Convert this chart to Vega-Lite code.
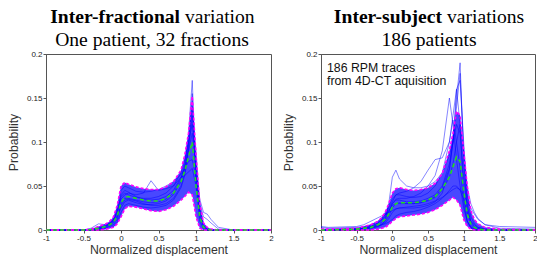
{
"$schema": "https://vega.github.io/schema/vega-lite/v6.json",
"padding": {"left": 6, "top": 6, "right": 0, "bottom": 0},
"spacing": 6,
"background": "white",
"config": {
 "view": {"stroke": "#555", "strokeWidth": 1},
 "axis": {"grid": false, "labelFont": "Liberation Sans", "labelFontSize": 8, "labelColor": "#222", "tickColor": "#555", "domainColor": "#555", "tickSize": 3, "labelPadding": 1, "labelOverlap": false, "labelFlush": false, "labelBound": false, "titleFont": "Liberation Sans", "titleFontSize": 12.3, "titleFontWeight": "normal", "titleColor": "#333"},
 "axisX": {"titlePadding": 1},
 "axisY": {"titlePadding": 6}
},
"datasets": {
 "L": [
  {"x": -1, "m": 0, "hi": 0, "lo": 0, "a": 0, "b": 0, "c": 0, "d": 0, "e": 0, "f": 0, "g": 0, "h": 0},
  {"x": -0.9, "m": 0, "hi": 0, "lo": 0, "a": 0, "b": 0, "c": 0, "d": 0, "e": 0, "f": 0, "g": 0, "h": 0},
  {"x": -0.5, "m": 0, "hi": 0, "lo": 0, "a": 0, "b": 0, "c": 0, "d": 0, "e": 0, "f": 0, "g": 0, "h": 0},
  {"x": -0.4, "m": 0.0005, "hi": 0.001, "lo": 0, "a": 0, "b": 0, "c": 0, "d": 0, "e": 0.002, "f": 0, "g": 0, "h": 0.001},
  {"x": -0.3, "m": 0.002, "hi": 0.004, "lo": 0, "a": 0.001, "b": 0.002, "c": 0, "d": 0.001, "e": 0.007, "f": 0.001, "g": 0.002, "h": 0.003},
  {"x": -0.2, "m": 0.004, "hi": 0.007, "lo": 0.001, "a": 0.003, "b": 0.005, "c": 0.001, "d": 0.004, "e": 0.006, "f": 0.002, "g": 0.004, "h": 0.005},
  {"x": -0.15, "m": 0.006, "hi": 0.01, "lo": 0.002, "a": 0.005, "b": 0.008, "c": 0.002, "d": 0.006, "e": 0.008, "f": 0.004, "g": 0.007, "h": 0.007},
  {"x": -0.1, "m": 0.009, "hi": 0.015, "lo": 0.003, "a": 0.008, "b": 0.012, "c": 0.004, "d": 0.01, "e": 0.012, "f": 0.006, "g": 0.011, "h": 0.01},
  {"x": -0.05, "m": 0.016, "hi": 0.028, "lo": 0.007, "a": 0.015, "b": 0.025, "c": 0.009, "d": 0.02, "e": 0.022, "f": 0.012, "g": 0.02, "h": 0.016},
  {"x": 0, "m": 0.031, "hi": 0.05, "lo": 0.015, "a": 0.03, "b": 0.045, "c": 0.02, "d": 0.035, "e": 0.04, "f": 0.028, "g": 0.038, "h": 0.025},
  {"x": 0.05, "m": 0.037, "hi": 0.054, "lo": 0.024, "a": 0.036, "b": 0.05, "c": 0.028, "d": 0.04, "e": 0.045, "f": 0.034, "g": 0.042, "h": 0.032},
  {"x": 0.1, "m": 0.038, "hi": 0.052, "lo": 0.027, "a": 0.036, "b": 0.048, "c": 0.03, "d": 0.042, "e": 0.043, "f": 0.035, "g": 0.04, "h": 0.034},
  {"x": 0.2, "m": 0.036, "hi": 0.049, "lo": 0.026, "a": 0.034, "b": 0.044, "c": 0.028, "d": 0.04, "e": 0.038, "f": 0.033, "g": 0.037, "h": 0.031},
  {"x": 0.3, "m": 0.034, "hi": 0.047, "lo": 0.024, "a": 0.032, "b": 0.043, "c": 0.026, "d": 0.042, "e": 0.035, "f": 0.03, "g": 0.036, "h": 0.029},
  {"x": 0.4, "m": 0.033, "hi": 0.046, "lo": 0.022, "a": 0.031, "b": 0.044, "c": 0.025, "d": 0.056, "e": 0.034, "f": 0.028, "g": 0.036, "h": 0.029},
  {"x": 0.5, "m": 0.033, "hi": 0.046, "lo": 0.021, "a": 0.032, "b": 0.046, "c": 0.026, "d": 0.045, "e": 0.035, "f": 0.028, "g": 0.038, "h": 0.03},
  {"x": 0.6, "m": 0.036, "hi": 0.049, "lo": 0.023, "a": 0.035, "b": 0.05, "c": 0.028, "d": 0.047, "e": 0.038, "f": 0.03, "g": 0.042, "h": 0.033},
  {"x": 0.7, "m": 0.042, "hi": 0.055, "lo": 0.027, "a": 0.042, "b": 0.055, "c": 0.034, "d": 0.05, "e": 0.045, "f": 0.036, "g": 0.05, "h": 0.04},
  {"x": 0.8, "m": 0.055, "hi": 0.068, "lo": 0.034, "a": 0.058, "b": 0.063, "c": 0.048, "d": 0.065, "e": 0.06, "f": 0.05, "g": 0.06, "h": 0.055},
  {"x": 0.85, "m": 0.067, "hi": 0.085, "lo": 0.038, "a": 0.075, "b": 0.07, "c": 0.062, "d": 0.08, "e": 0.07, "f": 0.065, "g": 0.062, "h": 0.07},
  {"x": 0.9, "m": 0.083, "hi": 0.11, "lo": 0.043, "a": 0.11, "b": 0.078, "c": 0.09, "d": 0.1, "e": 0.09, "f": 0.095, "g": 0.066, "h": 0.1},
  {"x": 0.95, "m": 0.1, "hi": 0.152, "lo": 0.04, "a": 0.17, "b": 0.08, "c": 0.13, "d": 0.14, "e": 0.11, "f": 0.155, "g": 0.07, "h": 0.12},
  {"x": 1.0, "m": 0.05, "hi": 0.085, "lo": 0.015, "a": 0.06, "b": 0.06, "c": 0.07, "d": 0.09, "e": 0.07, "f": 0.05, "g": 0.05, "h": 0.08},
  {"x": 1.05, "m": 0.015, "hi": 0.03, "lo": 0.002, "a": 0.015, "b": 0.03, "c": 0.02, "d": 0.03, "e": 0.035, "f": 0.01, "g": 0.025, "h": 0.02},
  {"x": 1.1, "m": 0.003, "hi": 0.008, "lo": 0, "a": 0.002, "b": 0.015, "c": 0.003, "d": 0.005, "e": 0.02, "f": 0.001, "g": 0.008, "h": 0.004},
  {"x": 1.15, "m": 0.001, "hi": 0.003, "lo": 0, "a": 0, "b": 0.012, "c": 0, "d": 0.001, "e": 0.018, "f": 0, "g": 0.002, "h": 0.001},
  {"x": 1.2, "m": 0, "hi": 0.001, "lo": 0, "a": 0, "b": 0.008, "c": 0, "d": 0, "e": 0.012, "f": 0, "g": 0, "h": 0},
  {"x": 1.3, "m": 0, "hi": 0, "lo": 0, "a": 0, "b": 0.001, "c": 0, "d": 0, "e": 0.003, "f": 0, "g": 0, "h": 0},
  {"x": 1.5, "m": 0, "hi": 0, "lo": 0, "a": 0, "b": 0, "c": 0, "d": 0, "e": 0, "f": 0, "g": 0, "h": 0},
  {"x": 2, "m": 0, "hi": 0, "lo": 0, "a": 0, "b": 0, "c": 0, "d": 0, "e": 0, "f": 0, "g": 0, "h": 0}
 ],
 "R": [
  {"x": -1, "m": 0, "hi": 0.001, "lo": 0, "a": 0, "b": 0, "c": 0, "d": 0, "e": 0.004, "f": 0, "g": 0, "h": 0.001, "i": 0, "j": 0.003},
  {"x": -0.9, "m": 0, "hi": 0.001, "lo": 0, "a": 0, "b": 0, "c": 0, "d": 0, "e": 0.003, "f": 0, "g": 0, "h": 0.001, "i": 0, "j": 0.002},
  {"x": -0.5, "m": 0.001, "hi": 0.002, "lo": 0, "a": 0.001, "b": 0.001, "c": 0.001, "d": 0.001, "e": 0.004, "f": 0, "g": 0.001, "h": 0.002, "i": 0.001, "j": 0.003},
  {"x": -0.4, "m": 0.002, "hi": 0.004, "lo": 0, "a": 0.001, "b": 0.002, "c": 0.002, "d": 0.003, "e": 0.006, "f": 0.001, "g": 0.002, "h": 0.003, "i": 0.002, "j": 0.004},
  {"x": -0.3, "m": 0.003, "hi": 0.006, "lo": 0, "a": 0.002, "b": 0.004, "c": 0.003, "d": 0.006, "e": 0.01, "f": 0.002, "g": 0.004, "h": 0.004, "i": 0.003, "j": 0.006},
  {"x": -0.2, "m": 0.006, "hi": 0.01, "lo": 0.001, "a": 0.004, "b": 0.008, "c": 0.005, "d": 0.01, "e": 0.014, "f": 0.004, "g": 0.008, "h": 0.005, "i": 0.006, "j": 0.01},
  {"x": -0.15, "m": 0.009, "hi": 0.014, "lo": 0.002, "a": 0.006, "b": 0.011, "c": 0.007, "d": 0.014, "e": 0.016, "f": 0.006, "g": 0.012, "h": 0.006, "i": 0.009, "j": 0.013},
  {"x": -0.1, "m": 0.012, "hi": 0.02, "lo": 0.003, "a": 0.01, "b": 0.015, "c": 0.01, "d": 0.02, "e": 0.018, "f": 0.008, "g": 0.017, "h": 0.007, "i": 0.013, "j": 0.017},
  {"x": -0.05, "m": 0.018, "hi": 0.03, "lo": 0.006, "a": 0.016, "b": 0.022, "c": 0.03, "d": 0.027, "e": 0.02, "f": 0.013, "g": 0.025, "h": 0.009, "i": 0.02, "j": 0.022},
  {"x": 0, "m": 0.026, "hi": 0.042, "lo": 0.01, "a": 0.025, "b": 0.03, "c": 0.06, "d": 0.035, "e": 0.022, "f": 0.02, "g": 0.032, "h": 0.012, "i": 0.03, "j": 0.028},
  {"x": 0.05, "m": 0.03, "hi": 0.047, "lo": 0.013, "a": 0.03, "b": 0.035, "c": 0.068, "d": 0.04, "e": 0.024, "f": 0.024, "g": 0.04, "h": 0.016, "i": 0.034, "j": 0.03},
  {"x": 0.1, "m": 0.031, "hi": 0.048, "lo": 0.015, "a": 0.03, "b": 0.036, "c": 0.058, "d": 0.042, "e": 0.025, "f": 0.025, "g": 0.04, "h": 0.018, "i": 0.034, "j": 0.031},
  {"x": 0.2, "m": 0.031, "hi": 0.046, "lo": 0.016, "a": 0.03, "b": 0.036, "c": 0.05, "d": 0.044, "e": 0.026, "f": 0.025, "g": 0.038, "h": 0.02, "i": 0.032, "j": 0.03},
  {"x": 0.3, "m": 0.031, "hi": 0.045, "lo": 0.017, "a": 0.03, "b": 0.038, "c": 0.048, "d": 0.048, "e": 0.027, "f": 0.025, "g": 0.037, "h": 0.021, "i": 0.032, "j": 0.03},
  {"x": 0.4, "m": 0.032, "hi": 0.046, "lo": 0.018, "a": 0.031, "b": 0.042, "c": 0.048, "d": 0.055, "e": 0.028, "f": 0.026, "g": 0.038, "h": 0.023, "i": 0.033, "j": 0.031},
  {"x": 0.5, "m": 0.034, "hi": 0.048, "lo": 0.02, "a": 0.034, "b": 0.05, "c": 0.05, "d": 0.068, "e": 0.03, "f": 0.028, "g": 0.042, "h": 0.026, "i": 0.036, "j": 0.033},
  {"x": 0.6, "m": 0.038, "hi": 0.053, "lo": 0.023, "a": 0.038, "b": 0.062, "c": 0.055, "d": 0.08, "e": 0.033, "f": 0.032, "g": 0.05, "h": 0.03, "i": 0.04, "j": 0.037},
  {"x": 0.7, "m": 0.047, "hi": 0.064, "lo": 0.028, "a": 0.048, "b": 0.09, "c": 0.065, "d": 0.082, "e": 0.037, "f": 0.042, "g": 0.065, "h": 0.036, "i": 0.05, "j": 0.045},
  {"x": 0.8, "m": 0.06, "hi": 0.09, "lo": 0.034, "a": 0.07, "b": 0.15, "c": 0.085, "d": 0.1, "e": 0.043, "f": 0.068, "g": 0.1, "h": 0.045, "i": 0.075, "j": 0.06},
  {"x": 0.85, "m": 0.072, "hi": 0.11, "lo": 0.037, "a": 0.1, "b": 0.12, "c": 0.1, "d": 0.13, "e": 0.046, "f": 0.1, "g": 0.125, "h": 0.05, "i": 0.1, "j": 0.075},
  {"x": 0.9, "m": 0.083, "hi": 0.135, "lo": 0.034, "a": 0.15, "b": 0.08, "c": 0.12, "d": 0.16, "e": 0.048, "f": 0.16, "g": 0.1, "h": 0.05, "i": 0.14, "j": 0.1},
  {"x": 0.95, "m": 0.078, "hi": 0.13, "lo": 0.028, "a": 0.19, "b": 0.05, "c": 0.11, "d": 0.17, "e": 0.046, "f": 0.12, "g": 0.07, "h": 0.045, "i": 0.178, "j": 0.12},
  {"x": 1.0, "m": 0.045, "hi": 0.09, "lo": 0.012, "a": 0.08, "b": 0.025, "c": 0.06, "d": 0.1, "e": 0.04, "f": 0.04, "g": 0.03, "h": 0.035, "i": 0.09, "j": 0.09},
  {"x": 1.05, "m": 0.018, "hi": 0.05, "lo": 0.004, "a": 0.02, "b": 0.01, "c": 0.025, "d": 0.04, "e": 0.032, "f": 0.01, "g": 0.01, "h": 0.02, "i": 0.03, "j": 0.05},
  {"x": 1.1, "m": 0.007, "hi": 0.022, "lo": 0.001, "a": 0.005, "b": 0.003, "c": 0.01, "d": 0.015, "e": 0.025, "f": 0.002, "g": 0.003, "h": 0.01, "i": 0.008, "j": 0.03},
  {"x": 1.15, "m": 0.003, "hi": 0.012, "lo": 0, "a": 0.002, "b": 0.001, "c": 0.004, "d": 0.007, "e": 0.018, "f": 0, "g": 0.001, "h": 0.006, "i": 0.003, "j": 0.02},
  {"x": 1.2, "m": 0.001, "hi": 0.007, "lo": 0, "a": 0.001, "b": 0, "c": 0.002, "d": 0.003, "e": 0.012, "f": 0, "g": 0, "h": 0.003, "i": 0.001, "j": 0.013},
  {"x": 1.3, "m": 0, "hi": 0.003, "lo": 0, "a": 0, "b": 0, "c": 0, "d": 0.001, "e": 0.006, "f": 0, "g": 0, "h": 0.001, "i": 0, "j": 0.006},
  {"x": 1.5, "m": 0, "hi": 0.001, "lo": 0, "a": 0, "b": 0, "c": 0, "d": 0, "e": 0.002, "f": 0, "g": 0, "h": 0, "i": 0, "j": 0.004},
  {"x": 2, "m": 0, "hi": 0, "lo": 0, "a": 0, "b": 0, "c": 0, "d": 0, "e": 0.001, "f": 0, "g": 0, "h": 0, "i": 0, "j": 0.003}
 ]
},
"hconcat": [
 {
  "width": 225, "height": 176,
  "data": {"name": "L"},
  "layer": [
   {"mark": {"type": "area", "color": "#1a1aff", "opacity": 0.8},
    "encoding": {
     "x": {"field": "x", "type": "quantitative", "scale": {"domain": [-1, 2], "nice": false}, "axis": {"values": [-1, -0.5, 0, 0.5, 1, 1.5, 2], "tickCount": 12, "labelOverlap": false, "labelExpr": "datum.value < 0 ? '-' + format(-datum.value, '.2~f') : format(datum.value, '.2~f')", "title": "Normalized displacement"}},
     "y": {"field": "hi", "type": "quantitative", "scale": {"domain": [0, 0.2], "nice": false}, "axis": {"values": [0, 0.05, 0.1, 0.15, 0.2], "tickCount": 10, "labelOverlap": false, "labelExpr": "format(datum.value, '.2~f')", "title": "Probability"}},
     "y2": {"field": "lo"}}},
   {"transform": [{"fold": ["a", "b", "c", "d", "e", "f", "g", "h"], "as": ["k", "v"]}],
    "mark": {"type": "line", "color": "#0000ff", "strokeWidth": 0.8, "opacity": 0.6},
    "encoding": {
     "x": {"field": "x", "type": "quantitative", "title": "Normalized displacement"},
     "y": {"field": "v", "type": "quantitative", "title": "Probability"},
     "detail": {"field": "k"}}},
   {"transform": [{"fold": ["hi", "lo"], "as": ["k", "v"]}],
    "mark": {"type": "line", "color": "#ff00ff", "strokeWidth": 1.6, "strokeDash": [3, 2]},
    "encoding": {
     "x": {"field": "x", "type": "quantitative", "title": "Normalized displacement"},
     "y": {"field": "v", "type": "quantitative", "title": "Probability"},
     "detail": {"field": "k"}}},
   {"mark": {"type": "line", "color": "#22dd22", "strokeWidth": 1.6, "strokeDash": [4, 3]},
    "encoding": {
     "x": {"field": "x", "type": "quantitative", "title": "Normalized displacement"},
     "y": {"field": "m", "type": "quantitative", "title": "Probability"}}},
   {"data": {"values": [{}]},
    "mark": {"type": "text", "text": "Inter-fractional", "font": "Liberation Serif", "fontSize": 19.6, "fontWeight": "bold", "align": "right", "baseline": "alphabetic", "color": "#000"},
    "encoding": {"x": {"datum": 0.787, "type": "quantitative"}, "y": {"datum": 0.2356, "type": "quantitative"}}},
   {"data": {"values": [{}]},
    "mark": {"type": "text", "text": "variation", "font": "Liberation Serif", "fontSize": 19.6, "fontWeight": "normal", "align": "left", "baseline": "alphabetic", "color": "#000"},
    "encoding": {"x": {"datum": 0.853, "type": "quantitative"}, "y": {"datum": 0.2356, "type": "quantitative"}}},
   {"data": {"values": [{}]},
    "mark": {"type": "text", "text": "One patient, 32 fractions", "font": "Liberation Serif", "fontSize": 19.6, "fontWeight": "normal", "align": "center", "baseline": "alphabetic", "color": "#000"},
    "encoding": {"x": {"datum": 0.413, "type": "quantitative"}, "y": {"datum": 0.209, "type": "quantitative"}}}
  ]
 },
 {
  "width": 214, "height": 176,
  "data": {"name": "R"},
  "layer": [
   {"mark": {"type": "area", "color": "#1a1aff", "opacity": 0.8},
    "encoding": {
     "x": {"field": "x", "type": "quantitative", "scale": {"domain": [-1, 2], "nice": false}, "axis": {"values": [-1, -0.5, 0, 0.5, 1, 1.5, 2], "tickCount": 12, "labelOverlap": false, "labelExpr": "datum.value < 0 ? '-' + format(-datum.value, '.2~f') : format(datum.value, '.2~f')", "title": "Normalized displacement"}},
     "y": {"field": "hi", "type": "quantitative", "scale": {"domain": [0, 0.2], "nice": false}, "axis": {"values": [0, 0.05, 0.1, 0.15, 0.2], "tickCount": 10, "labelOverlap": false, "labelExpr": "format(datum.value, '.2~f')", "title": "Probability"}},
     "y2": {"field": "lo"}}},
   {"transform": [{"fold": ["a", "b", "c", "d", "e", "f", "g", "h", "i", "j"], "as": ["k", "v"]}],
    "mark": {"type": "line", "color": "#0000ff", "strokeWidth": 0.8, "opacity": 0.6},
    "encoding": {
     "x": {"field": "x", "type": "quantitative", "title": "Normalized displacement"},
     "y": {"field": "v", "type": "quantitative", "title": "Probability"},
     "detail": {"field": "k"}}},
   {"transform": [{"fold": ["hi", "lo"], "as": ["k", "v"]}],
    "mark": {"type": "line", "color": "#ff00ff", "strokeWidth": 1.6, "strokeDash": [3, 2]},
    "encoding": {
     "x": {"field": "x", "type": "quantitative", "title": "Normalized displacement"},
     "y": {"field": "v", "type": "quantitative", "title": "Probability"},
     "detail": {"field": "k"}}},
   {"mark": {"type": "line", "color": "#22dd22", "strokeWidth": 1.6, "strokeDash": [4, 3]},
    "encoding": {
     "x": {"field": "x", "type": "quantitative", "title": "Normalized displacement"},
     "y": {"field": "m", "type": "quantitative", "title": "Probability"}}},
   {"data": {"values": [{}]},
    "mark": {"type": "text", "text": ["186 RPM traces", "from 4D-CT aquisition"], "font": "Liberation Sans", "fontSize": 12.3, "lineHeight": 13.6, "align": "left", "baseline": "alphabetic", "color": "#111"},
    "encoding": {"x": {"datum": -0.916, "type": "quantitative"}, "y": {"datum": 0.18, "type": "quantitative"}}},
   {"data": {"values": [{}]},
    "mark": {"type": "text", "text": "Inter-subject", "font": "Liberation Serif", "fontSize": 19.6, "fontWeight": "bold", "align": "right", "baseline": "alphabetic", "color": "#000"},
    "encoding": {"x": {"datum": 0.696, "type": "quantitative"}, "y": {"datum": 0.2356, "type": "quantitative"}}},
   {"data": {"values": [{}]},
    "mark": {"type": "text", "text": "variations", "font": "Liberation Serif", "fontSize": 19.6, "fontWeight": "normal", "align": "left", "baseline": "alphabetic", "color": "#000"},
    "encoding": {"x": {"datum": 0.766, "type": "quantitative"}, "y": {"datum": 0.2356, "type": "quantitative"}}},
   {"data": {"values": [{}]},
    "mark": {"type": "text", "text": "186 patients", "font": "Liberation Serif", "fontSize": 19.6, "fontWeight": "normal", "align": "center", "baseline": "alphabetic", "color": "#000"},
    "encoding": {"x": {"datum": 0.514, "type": "quantitative"}, "y": {"datum": 0.209, "type": "quantitative"}}}
  ]
 }
]
}
